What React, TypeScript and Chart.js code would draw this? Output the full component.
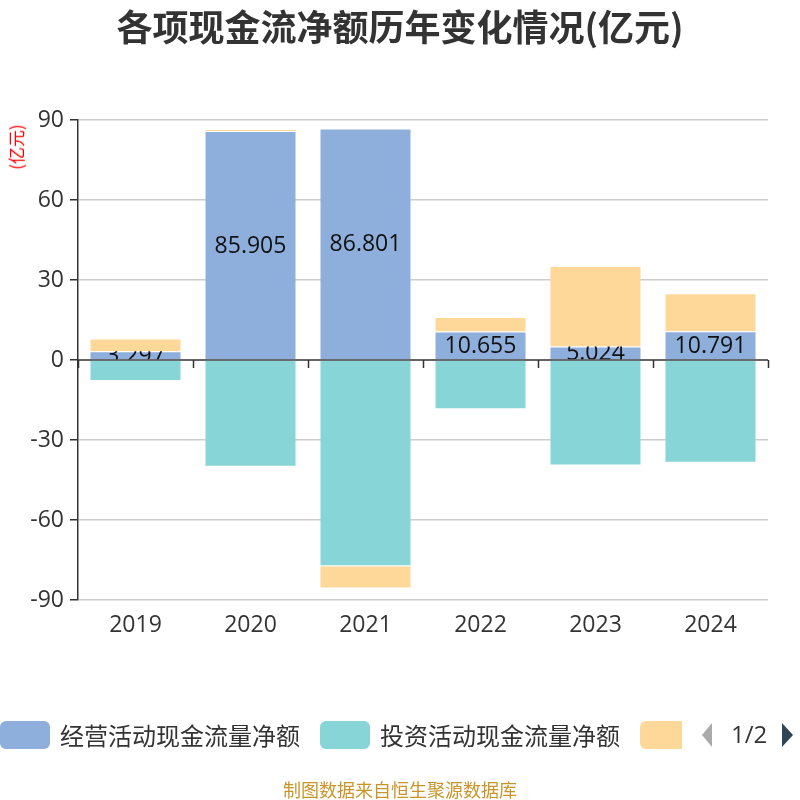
import { useEffect, useRef } from 'react';
import { Chart, registerables, Plugin } from 'chart.js';

Chart.register(...registerables);

const years = ['2019', '2020', '2021', '2022', '2023', '2024'];
const operating = [3.297, 85.905, 86.801, 10.655, 5.024, 10.791];
const investing = [-7.9, -40.0, -77.3, -18.5, -39.6, -38.5];
const financing = [4.8, 0.7, -8.4, 5.5, 30.2, 14.2];
const seriesNames = ['经营活动现金流量净额', '投资活动现金流量净额', '筹资活动现金流量净额'];
const seriesColors = ['#8eaedb', '#88d5d8', '#fed898'];

const FONT = '"Open Sans", "Noto Sans CJK SC", sans-serif';
const CJK = '"Noto Sans CJK SC", sans-serif';

// zero axis line with category ticks (drawn under the bars)
const zeroAxis: Plugin = {
  id: 'zeroAxis',
  beforeDatasetsDraw(chart) {
    const { ctx, chartArea, scales } = chart;
    const y0 = scales.y.getPixelForValue(0);
    const step = (chartArea.right - chartArea.left) / years.length;
    ctx.save();
    ctx.strokeStyle = '#333';
    ctx.lineWidth = 1.5;
    ctx.beginPath();
    ctx.moveTo(chartArea.left, y0);
    ctx.lineTo(chartArea.right, y0);
    for (let i = 0; i <= years.length; i++) {
      const x = Math.round(chartArea.left + i * step) + 0.5;
      ctx.moveTo(x, y0);
      ctx.lineTo(x, y0 + 8);
    }
    ctx.stroke();
    ctx.restore();
  },
};

// value labels of the operating series, clipped to their own bar
const barLabels: Plugin = {
  id: 'barLabels',
  afterDatasetsDraw(chart) {
    const { ctx } = chart;
    const meta = chart.getDatasetMeta(0);
    meta.data.forEach((el: any, i: number) => {
      const { x, y, base, width } = el.getProps(['x', 'y', 'base', 'width'], true);
      const top = Math.min(y, base);
      const h = Math.abs(base - y);
      ctx.save();
      ctx.beginPath();
      ctx.rect(x - width / 2, top, width, h);
      ctx.clip();
      ctx.fillStyle = '#111';
      ctx.font = `23px ${FONT}`;
      ctx.textAlign = 'center';
      ctx.textBaseline = 'middle';
      ctx.fillText(operating[i].toFixed(3), x, top + h / 2 + 1);
      ctx.restore();
    });
  },
};

export default function App() {
  const canvasRef = useRef<HTMLCanvasElement | null>(null);

  useEffect(() => {
    if (!canvasRef.current) return;
    const chart = new Chart(canvasRef.current, {
      type: 'bar',
      data: {
        labels: years,
        datasets: [operating, investing, financing].map((d, i) => ({
          label: seriesNames[i],
          data: d,
          backgroundColor: seriesColors[i],
          borderColor: 'rgba(255,255,255,0.2)',
          borderWidth: 1,
          barPercentage: 0.8,
          categoryPercentage: 1,
        })),
      },
      options: {
        animation: false,
        responsive: false,
        layout: { padding: { top: 120, right: 32, left: 0, bottom: 0 } },
        plugins: {
          legend: { display: false },
          tooltip: { enabled: false },
        },
        scales: {
          x: {
            stacked: true,
            grid: { display: false, drawTicks: false },
            border: { display: false },
            ticks: { color: '#333', font: { size: 23, family: FONT }, padding: 12 },
            afterFit: (s: any) => { s.height = 200; },
          },
          y: {
            stacked: true,
            min: -90,
            max: 90,
            ticks: { stepSize: 30, color: '#333', font: { size: 23, family: FONT }, padding: 6 },
            grid: {
              color: (c: any) => (c.tick && c.tick.value === 0 ? 'rgba(0,0,0,0)' : '#ccc'),
              lineWidth: 1.5,
              tickColor: '#333',
              tickLength: 8,
            },
            border: { display: true, color: '#333', width: 1.5 },
            afterFit: (s: any) => { s.width = 78; },
          },
        },
      },
      plugins: [zeroAxis, barLabels],
    });
    return () => chart.destroy();
  }, []);

  return (
    <div style={{ position: 'fixed', left: 0, top: 0, width: 800, height: 800, background: '#fff', fontFamily: FONT }}>
      <canvas ref={canvasRef} width={800} height={800} style={{ position: 'absolute', left: 0, top: 0 }} />
      <div style={{ position: 'absolute', top: 0, left: 0, width: 800, textAlign: 'center', fontSize: 36, lineHeight: '50px', fontWeight: 'bold', color: '#333', fontFamily: CJK }}>
        各项现金流净额历年变化情况(亿元)
      </div>
      <div style={{ position: 'absolute', left: 16, top: 147, transform: 'translate(-50%, -50%) rotate(-90deg)', color: '#ff0000', fontSize: 17, lineHeight: '20px', whiteSpace: 'nowrap', fontFamily: CJK }}>
        (亿元)
      </div>
      <div style={{ position: 'absolute', left: 0, top: 721, width: 682, height: 28, overflow: 'hidden', whiteSpace: 'nowrap', fontFamily: CJK }}>
        {seriesNames.map((n, i) => (
          <span key={n} style={{ display: 'inline-flex', alignItems: 'center', marginRight: 20, verticalAlign: 'top' }}>
            <span style={{ display: 'inline-block', width: 50, height: 28, borderRadius: 6, background: seriesColors[i] }} />
            <span style={{ marginLeft: 10, fontSize: 24, lineHeight: '28px', color: '#333' }}>{n}</span>
          </span>
        ))}
      </div>
      <div style={{ position: 'absolute', left: 702, top: 723, width: 0, height: 0, borderTop: '12.5px solid transparent', borderBottom: '12.5px solid transparent', borderRight: '10px solid #aaa' }} />
      <div style={{ position: 'absolute', left: 731, top: 718, fontSize: 24, lineHeight: '32px', color: '#333' }}>1/2</div>
      <div style={{ position: 'absolute', left: 782, top: 723, width: 0, height: 0, borderTop: '12.5px solid transparent', borderBottom: '12.5px solid transparent', borderLeft: '11px solid #2f4554' }} />
      <div style={{ position: 'absolute', top: 776, left: 0, width: 800, textAlign: 'center', fontSize: 18, lineHeight: '26px', color: '#c9952b', fontFamily: CJK }}>
        制图数据来自恒生聚源数据库
      </div>
    </div>
  );
}
